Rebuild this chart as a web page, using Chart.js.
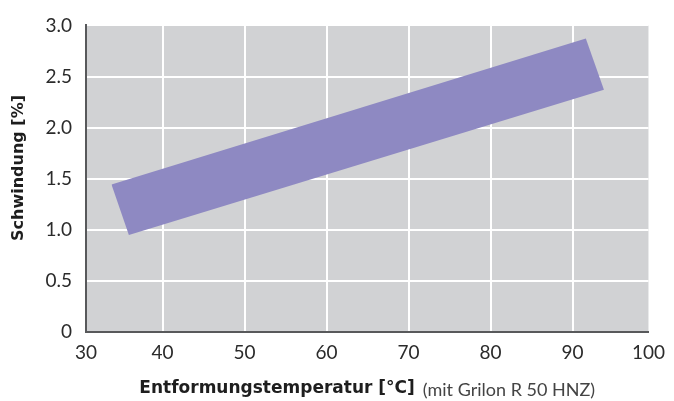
<!DOCTYPE html>
<html>
<head>
<meta charset="utf-8">
<script src="https://cdn.jsdelivr.net/npm/chart.js@4.4.1/dist/chart.umd.min.js"></script>
<style>
  html, body { margin: 0; padding: 0; background: #fff; }
  #wrap { position: relative; width: 674px; height: 401px; }
</style>
</head>
<body>
<div id="wrap"><canvas id="shrinkChart" width="674" height="401"></canvas></div>
<script>
// Axis range (the printed scale is slightly cropped at both ends)
const X_MIN = 30.66;
const X_MAX = 99.26;
const X_TICK_VALUES = [30.66, 40, 50, 60, 70, 80, 90, 99.26];
const X_TICK_LABELS = ['30', '40', '50', '60', '70', '80', '90', '100'];
const Y_MIN = 0;
const Y_MAX = 3.0;
const Y_STEP = 0.5;

// Shrinkage band corners (temperature °C, shrinkage %)
const BAND_UPPER_X = [33.77, 91.62, 93.83];
const BAND_UPPER_Y = [1.444, 2.873, 2.371];
const BAND_LOWER_X = [33.77, 35.89, 93.83];
const BAND_LOWER_Y = [1.444, 0.949, 2.371];

const X_TITLE_BOLD = 'Entformungstemperatur [°C]';
const X_TITLE_NOTE = '(mit Grilon R 50 HNZ)';
const Y_TITLE = 'Schwindung [%]';

const BAND_COLOR = '#8e89c2';
const PLOT_BG = '#d1d2d4';
const AXIS_COLOR = '#58595b';
const TEXT_COLOR = '#2b2b2b';

function toPoints(xs, ys) {
    return xs.map((x, i) => ({ x: x, y: ys[i] }));
}

// Grey plot background
const plotBackground = {
    id: 'plotBackground',
    beforeDraw(chart) {
        const { ctx, chartArea } = chart;
        ctx.save();
        ctx.fillStyle = PLOT_BG;
        ctx.fillRect(chartArea.left, chartArea.top,
            chartArea.right - chartArea.left, chartArea.bottom - chartArea.top);
        ctx.restore();
    }
};

// Axis titles: bold x title with a light note, rotated y title
const axisTitles = {
    id: 'axisTitles',
    afterDraw(chart) {
        const { ctx, chartArea } = chart;
        const boldFont = 'bold 17px "DejaVu Sans"';
        const noteFont = '18px Lato';
        const gap = 8;
        ctx.save();
        ctx.font = boldFont;
        const wBold = ctx.measureText(X_TITLE_BOLD).width;
        ctx.font = noteFont;
        const wNote = ctx.measureText(X_TITLE_NOTE).width;
        const total = wBold + gap + wNote;
        const cx = (chartArea.left + chartArea.right) / 2;
        let x = cx - total / 2;
        const y = 389;
        ctx.textBaseline = 'middle';
        ctx.textAlign = 'left';
        ctx.fillStyle = '#1e1e1e';
        ctx.font = boldFont;
        ctx.fillText(X_TITLE_BOLD, x, y);
        x += wBold + gap;
        ctx.fillStyle = '#444';
        ctx.font = noteFont;
        ctx.fillText(X_TITLE_NOTE, x, y + 1);

        // y title
        ctx.translate(19, 168);
        ctx.rotate(-Math.PI / 2);
        ctx.textAlign = 'center';
        ctx.fillStyle = '#1e1e1e';
        ctx.font = 'bold 16px "DejaVu Sans"';
        ctx.fillText(Y_TITLE, 0, 0);
        ctx.restore();
    }
};

const ctx = document.getElementById('shrinkChart').getContext('2d');
new Chart(ctx, {
    type: 'line',
    data: {
        datasets: [
            {
                label: 'upper',
                data: toPoints(BAND_UPPER_X, BAND_UPPER_Y),
                borderWidth: 0,
                borderColor: BAND_COLOR,
                backgroundColor: BAND_COLOR,
                pointRadius: 0,
                tension: 0,
                fill: '+1'
            },
            {
                label: 'lower',
                data: toPoints(BAND_LOWER_X, BAND_LOWER_Y),
                borderWidth: 0,
                borderColor: BAND_COLOR,
                backgroundColor: BAND_COLOR,
                pointRadius: 0,
                tension: 0,
                fill: false
            }
        ]
    },
    options: {
        responsive: false,
        animation: false,
        layout: { padding: { top: 20, right: 20, left: 0, bottom: 0 } },
        plugins: {
            legend: { display: false },
            tooltip: { enabled: false }
        },
        scales: {
            x: {
                type: 'linear',
                min: X_MIN,
                max: X_MAX,
                afterBuildTicks: function(scale) {
                    scale.ticks = X_TICK_VALUES.map(v => ({ value: v }));
                },
                afterFit: function(scale) {
                    scale.height = 69;
                },
                grid: {
                    color: c => (c.index === 0 || c.index === X_TICK_VALUES.length - 1) ? 'rgba(0,0,0,0)' : '#ffffff',
                    lineWidth: 2,
                    drawTicks: false
                },
                border: { display: true, color: AXIS_COLOR, width: 2 },
                ticks: {
                    autoSkip: false,
                    maxRotation: 0,
                    padding: 9,
                    color: TEXT_COLOR,
                    font: { family: 'Lato', size: 19 },
                    callback: function(value, index) {
                        return X_TICK_LABELS[index];
                    }
                }
            },
            y: {
                min: Y_MIN,
                max: Y_MAX,
                afterFit: function(scale) {
                    scale.width = 86;
                },
                grid: {
                    color: c => c.index === 0 ? 'rgba(0,0,0,0)' : '#ffffff',
                    lineWidth: 2,
                    drawTicks: false
                },
                border: { display: true, color: AXIS_COLOR, width: 2 },
                ticks: {
                    stepSize: Y_STEP,
                    padding: 14,
                    color: TEXT_COLOR,
                    font: { family: 'Lato', size: 19 },
                    callback: function(value) {
                        return value === 0 ? '0' : value.toFixed(1);
                    }
                }
            }
        }
    },
    plugins: [plotBackground, axisTitles]
});
</script>
</body>
</html>
